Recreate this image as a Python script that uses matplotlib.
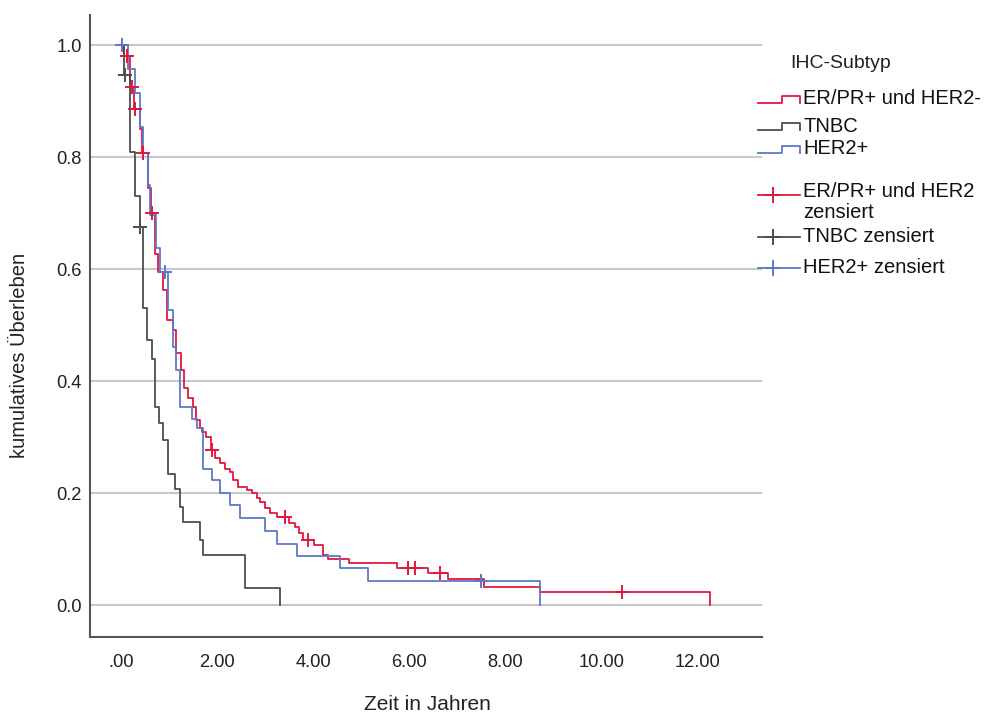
import numpy as np
import matplotlib.pyplot as plt
from matplotlib.lines import Line2D

plt.rcParams['font.family'] = ['Liberation Sans', 'DejaVu Sans']

# Kaplan-Meier step data (time in years, survival after step)
er_t = [0.06, 0.18, 0.27, 0.40, 0.44, 0.57, 0.62, 0.71, 0.77, 0.87, 0.95, 1.08,
        1.15, 1.24, 1.31, 1.40, 1.49, 1.56, 1.65, 1.68, 1.78, 1.87, 1.96, 2.06,
        2.17, 2.27, 2.34, 2.44, 2.62, 2.72, 2.83, 2.90, 3.00, 3.10, 3.24, 3.49,
        3.63, 3.70, 3.80, 4.01, 4.21, 4.32, 4.74, 5.74, 6.40, 6.82, 7.55, 8.73, 12.26]
er_s = [0.981, 0.926, 0.886, 0.850, 0.807, 0.745, 0.700, 0.628, 0.595, 0.5625, 0.509, 0.491,
        0.450, 0.420, 0.387, 0.370, 0.354, 0.330, 0.316, 0.310, 0.300, 0.277, 0.262, 0.253,
        0.244, 0.238, 0.223, 0.211, 0.205, 0.200, 0.191, 0.184, 0.173, 0.164, 0.158, 0.146,
        0.140, 0.128, 0.116, 0.107, 0.089, 0.082, 0.075, 0.066, 0.057, 0.047, 0.033, 0.024, 0.0]
er_cens = [0.12, 0.22, 0.29, 0.46, 0.64, 1.89, 3.42, 3.90, 5.98, 6.12, 6.65, 10.43]

tn_t = [0.06, 0.19, 0.29, 0.39, 0.46, 0.55, 0.64, 0.71, 0.79, 0.875, 0.985, 1.125,
        1.23, 1.30, 1.65, 1.71, 2.58, 3.31]
tn_s = [0.946, 0.810, 0.730, 0.675, 0.530, 0.473, 0.440, 0.354, 0.325, 0.295, 0.235, 0.208,
        0.176, 0.149, 0.116, 0.089, 0.030, 0.0]
tn_cens = [0.08, 0.40]

her_t = [0.15, 0.29, 0.40, 0.46, 0.57, 0.60, 0.73, 0.81, 0.985, 1.08, 1.15, 1.23,
         1.47, 1.59, 1.71, 1.89, 2.06, 2.27, 2.48, 3.00, 3.24, 3.66, 4.56, 5.15, 8.73]
her_s = [0.958, 0.914, 0.854, 0.807, 0.750, 0.696, 0.637, 0.595, 0.527, 0.461, 0.420, 0.354,
         0.332, 0.316, 0.244, 0.223, 0.200, 0.179, 0.155, 0.132, 0.110, 0.0875, 0.066, 0.044, 0.0]
her_cens = [0.03, 0.92, 7.50]

red = '#e2173f'
black = '#4d4d4d'
blue = '#5b79cb'

fig = plt.figure(figsize=(10.02, 7.15), dpi=100)
ax = fig.add_axes([0.0898, 0.109, 0.6707, 0.870])


def km(t, s, cens, color):
    t = np.r_[0.0, t]
    s = np.r_[1.0, s]
    ax.step(t, s, where='post', color=color, lw=1.3, zorder=3)
    idx = np.searchsorted(t, cens, side='right') - 1
    ax.plot(cens, s[idx], ls='none', marker='+', ms=10, mew=1.4, color=color, zorder=4)


km(er_t, er_s, er_cens, red)
km(tn_t, tn_s, tn_cens, black)
km(her_t, her_s, her_cens, blue)

ax.set_xlim(-0.646, 13.35)
ax.set_ylim(-0.057, 1.054)
ax.set_yticks(np.arange(0, 1.01, 0.2))
ax.set_yticklabels(['0.0', '0.2', '0.4', '0.6', '0.8', '1.0'])
ax.set_xticks(np.arange(0, 12.1, 2))
ax.set_xticklabels(['.00', '2.00', '4.00', '6.00', '8.00', '10.00', '12.00'])
ax.tick_params(length=0, labelsize=13.2, colors='#222222')
ax.tick_params(axis='x', pad=12)
ax.tick_params(axis='y', pad=6)
ax.yaxis.grid(True, color='#c8c8c8', lw=1.5)
ax.set_axisbelow(True)
for side in ['top', 'right']:
    ax.spines[side].set_visible(False)
for side in ['left', 'bottom']:
    ax.spines[side].set_color('#555555')
    ax.spines[side].set_linewidth(1.5)

fig.text(427 / 1002, 1 - 705 / 715, 'Zeit in Jahren', ha='center', va='center', fontsize=15, color='#222222')
fig.text(20 / 1002, 1 - 355 / 715, 'kumulatives Überleben', ha='center', va='center',
         rotation=90, fontsize=14.5, color='#222222')

# legend drawn by hand
W, H = 1002.0, 715.0


def fx(x):
    return x / W


def fy(y):
    return 1 - y / H


fig.text(fx(790), fy(63), 'IHC-Subtyp', ha='left', va='center', fontsize=14, color='#222222')

step_items = [('ER/PR+ und HER2-', red, 99), ('TNBC', black, 126), ('HER2+', blue, 149)]
for label, c, yc in step_items:
    xs = [758, 782, 782, 800, 800]
    ys = [yc + 4, yc + 4, yc - 3, yc - 3, yc + 4]
    fig.add_artist(Line2D([fx(v) for v in xs], [fy(v) for v in ys], color=c, lw=1.3))
    fig.text(fx(803), fy(yc), label, ha='left', va='center', fontsize=14.5, color='#111111')

cens_items = [('ER/PR+ und HER2\nzensiert', red, 195, 202), ('TNBC zensiert', black, 237, 237),
              ('HER2+ zensiert', blue, 268, 268)]
for label, c, yc, ytxt in cens_items:
    fig.add_artist(Line2D([fx(758), fx(800)], [fy(yc), fy(yc)], color=c, lw=1.3))
    fig.add_artist(Line2D([fx(773)], [fy(yc)], color=c, marker='+', ms=11, mew=1.4, ls='none'))
    fig.text(fx(803), fy(ytxt), label, ha='left', va='center', fontsize=14.5, color='#111111',
             linespacing=1.1)

fig.savefig('out.png', dpi=100)
